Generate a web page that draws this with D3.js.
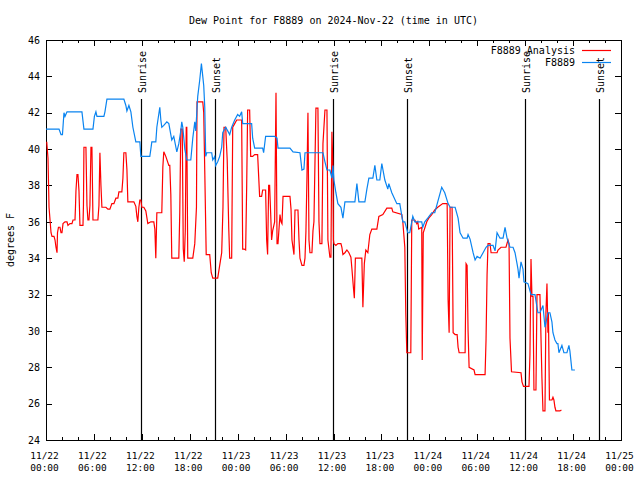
<!DOCTYPE html>
<html><head><meta charset="utf-8">
<script src="https://cdn.jsdelivr.net/npm/d3@7"></script>
<style>body{margin:0;background:#fff}svg{display:block}text{font-family:"DejaVu Sans Mono",monospace;fill:#000}</style>
</head><body><svg id="c" width="640" height="480"></svg>
<script>
const titleText = "Dew Point for F8889 on 2024-Nov-22 (time in UTC)";
const yTitle = "degrees F";
const seriesNames = ["F8889 Analysis", "F8889"];
const startTime = Date.UTC(2024, 10, 22, 0, 0);
const endTime = Date.UTC(2024, 10, 25, 0, 0);
const yTicks = [24, 26, 28, 30, 32, 34, 36, 38, 40, 42, 44, 46];
const sunriseHours = [11.93, 35.94, 59.95];
const sunsetHours = [21.22, 45.21, 69.2];

// [hours since 11/22 00:00 UTC, dew point F]
const analysis = [[0.09,40.4],[0.25,39.5],[0.38,36.8],[0.63,35.4],[0.75,35.2],[1.0,35.2],[1.13,35.0],[1.25,34.6],[1.38,34.3],[1.44,35.4],[1.56,35.7],[1.75,35.7],[1.88,35.4],[2.0,35.4],[2.13,35.9],[2.38,36.0],[2.63,36.0],[2.75,35.8],[3.0,35.9],[3.25,35.9],[3.38,36.1],[3.63,36.1],[3.69,36.8],[3.75,37.7],[3.88,38.6],[4.0,38.6],[4.13,37.7],[4.25,35.8],[4.63,35.8],[4.69,36.9],[4.75,40.1],[5.0,40.1],[5.13,36.9],[5.25,36.1],[5.38,36.1],[5.5,36.9],[5.63,40.1],[5.75,40.1],[5.88,36.1],[6.5,36.1],[6.63,36.9],[6.75,39.8],[6.88,38.0],[7.0,36.8],[7.5,36.8],[7.75,36.7],[8.0,36.7],[8.25,37.0],[8.5,37.0],[8.75,37.3],[9.0,37.3],[9.13,37.65],[9.5,37.65],[9.63,38.4],[9.75,39.8],[10.0,39.8],[10.13,38.9],[10.25,37.1],[11.0,37.1],[11.25,36.85],[11.38,36.3],[11.5,36.0],[11.63,36.8],[11.75,37.2],[11.88,37.2],[12.0,36.8],[12.25,36.8],[12.5,36.6],[12.75,35.9],[13.13,36.0],[13.5,36.0],[13.63,35.6],[13.75,34.0],[13.88,36.5],[14.5,36.5],[14.63,39.0],[14.75,39.85],[15.0,39.6],[15.38,39.1],[15.5,39.1],[15.63,37.5],[15.75,34.0],[16.63,34.0],[16.75,36.5],[16.88,41.1],[17.06,41.1],[17.19,34.5],[17.31,33.8],[17.44,35.5],[17.56,41.2],[17.63,41.2],[17.75,34.0],[18.38,34.0],[18.63,34.8],[18.84,36.8],[18.91,42.6],[19.63,42.6],[19.75,42.0],[19.88,38.8],[20.06,34.2],[20.5,34.2],[20.69,33.2],[20.88,32.9],[21.5,32.9],[21.75,33.6],[22.0,34.3],[22.16,36.8],[22.29,41.2],[22.5,41.2],[22.69,39.4],[22.88,35.7],[23.0,34.0],[23.25,34.0],[23.38,41.2],[23.63,41.4],[23.88,41.6],[24.5,41.6],[24.63,34.5],[24.81,34.5],[25.0,34.45],[25.13,38.0],[25.25,42.15],[25.5,42.15],[25.63,39.6],[25.88,39.6],[26.13,39.7],[26.5,39.7],[26.63,38.5],[26.75,37.4],[27.0,37.4],[27.13,37.75],[27.5,37.75],[27.63,35.0],[27.75,34.2],[27.88,38.0],[28.0,38.0],[28.13,36.5],[28.25,35.0],[28.38,35.5],[28.63,36.0],[28.8,43.1],[28.93,34.8],[29.05,34.8],[29.3,36.4],[29.43,36.0],[29.55,35.9],[29.68,37.4],[30.55,37.4],[30.68,36.7],[30.8,35.0],[31.05,34.2],[31.18,36.65],[31.55,36.65],[31.68,35.0],[31.8,34.0],[32.05,33.6],[32.3,33.6],[32.43,34.0],[32.55,35.5],[32.68,38.5],[32.8,42.0],[32.93,35.0],[33.05,34.3],[33.3,34.3],[33.43,35.5],[33.55,36.0],[33.8,42.25],[34.05,42.25],[34.18,36.0],[34.3,34.8],[34.55,34.8],[34.68,40.3],[34.93,42.15],[35.18,42.15],[35.3,35.0],[35.55,34.05],[35.68,34.05],[35.8,40.95],[35.93,39.0],[35.99,35.0],[36.05,34.8],[36.3,34.7],[36.55,34.8],[36.93,34.8],[37.05,34.6],[37.18,34.2],[37.43,34.3],[37.68,34.45],[37.93,34.3],[38.18,34.05],[38.3,33.45],[38.49,32.4],[38.61,31.8],[38.74,34.0],[39.55,34.0],[39.68,31.3],[39.86,33.7],[40.05,34.45],[40.3,34.3],[40.55,35.3],[40.8,35.6],[41.43,35.6],[41.68,36.3],[42.18,36.4],[42.68,36.75],[43.3,36.75],[43.43,36.55],[44.55,36.4],[44.68,36.0],[44.93,34.6],[45.05,31.0],[45.18,28.8],[45.68,28.8],[45.8,36.1],[46.18,36.1],[46.43,35.9],[46.55,36.0],[46.68,35.6],[47.05,35.7],[47.11,28.4],[47.24,35.4],[47.68,36.0],[47.93,36.2],[48.3,36.4],[48.68,36.65],[49.05,36.8],[49.68,37.0],[50.23,37.0],[50.35,31.7],[50.48,29.9],[50.6,36.8],[50.85,36.8],[50.98,29.9],[51.23,29.8],[51.48,29.8],[51.6,29.1],[51.73,28.8],[52.48,28.8],[52.6,33.7],[52.73,33.6],[52.85,30.0],[52.98,28.0],[53.6,27.85],[53.73,27.6],[54.98,27.6],[55.1,29.5],[55.23,33.1],[55.35,34.8],[55.6,34.8],[55.73,34.3],[56.48,34.3],[56.6,34.45],[56.98,34.6],[57.6,34.6],[57.85,35.0],[57.98,34.8],[58.1,29.6],[58.29,27.75],[59.48,27.7],[59.6,27.2],[59.79,26.95],[60.48,26.95],[60.6,28.7],[60.73,33.95],[60.85,31.9],[60.98,31.9],[61.1,26.75],[61.35,26.75],[61.48,32.0],[61.85,32.0],[61.94,30.4],[62.1,27.4],[62.23,25.6],[62.48,25.6],[62.6,31.0],[62.73,32.6],[62.85,29.9],[62.91,31.0],[63.04,26.2],[63.35,26.2],[63.48,26.35],[63.6,26.2],[63.73,25.8],[63.85,25.6],[64.35,25.6],[64.54,25.65]];

const observed = [[0,41.1],[1.63,41.1],[1.88,40.8],[2.06,40.8],[2.25,42.0],[2.38,41.8],[2.63,42.05],[4.5,42.05],[4.75,41.1],[5.88,41.1],[6.06,41.8],[6.25,42.05],[6.38,41.8],[7.25,41.8],[7.38,42.05],[7.63,42.75],[9.75,42.75],[10.0,42.4],[10.13,42.1],[10.38,42.4],[10.63,42.05],[10.88,41.2],[11.25,40.4],[11.75,40.4],[11.88,39.6],[13.0,39.6],[13.13,40.0],[13.25,40.4],[13.75,40.4],[13.88,41.2],[14.25,42.3],[14.38,41.6],[14.5,41.2],[14.75,41.3],[15.13,41.5],[15.38,41.4],[15.75,40.5],[16.0,40.7],[16.38,39.85],[16.63,40.3],[16.88,41.0],[17.0,41.5],[17.13,41.2],[17.38,40.0],[17.63,39.4],[18.13,39.4],[18.38,40.6],[18.63,41.5],[18.75,41.0],[19.0,42.9],[19.25,43.8],[19.46,44.7],[19.63,44.0],[19.75,43.5],[19.88,42.3],[20.0,39.6],[20.13,39.8],[20.75,39.8],[20.88,39.4],[21.13,39.6],[21.25,39.1],[21.5,39.3],[21.75,39.6],[22.0,40.1],[22.13,40.9],[22.5,41.2],[22.75,41.0],[23.0,40.8],[23.25,41.2],[23.63,41.6],[24.0,41.9],[24.25,41.8],[24.5,42.05],[24.63,41.4],[25.75,41.4],[25.88,40.6],[26.13,40.05],[27.13,40.05],[27.25,39.8],[27.5,40.7],[28.63,40.7],[28.93,40.6],[29.05,40.05],[30.55,40.05],[30.93,39.85],[31.8,39.8],[32.05,38.85],[32.3,38.9],[32.43,39.8],[34.68,39.8],[34.93,39.3],[35.18,38.85],[35.55,38.85],[35.8,38.4],[35.93,39.1],[36.05,38.3],[36.3,37.6],[36.55,37.0],[36.93,36.8],[37.18,36.2],[37.43,37.1],[38.68,37.1],[38.93,38.1],[39.18,37.1],[39.93,37.1],[40.18,37.8],[40.43,38.4],[40.93,38.4],[41.18,39.1],[41.43,38.3],[41.8,38.3],[42.05,39.2],[42.43,38.3],[42.8,37.8],[42.93,38.1],[43.3,37.6],[43.93,37.0],[44.3,37.0],[44.68,36.0],[44.93,36.0],[45.3,35.4],[45.55,35.4],[45.93,36.3],[46.18,36.0],[47.05,36.0],[47.18,35.7],[47.43,36.0],[47.8,36.2],[48.3,36.5],[48.68,36.5],[49.05,37.1],[49.55,37.9],[49.93,37.6],[50.35,37.0],[50.6,36.8],[51.23,36.8],[51.6,36.2],[51.85,35.4],[52.23,35.1],[52.73,35.1],[52.85,35.3],[53.1,35.05],[53.48,34.3],[53.73,33.9],[53.98,34.1],[54.35,34.0],[54.73,34.3],[55.1,34.6],[55.35,34.7],[55.98,34.7],[56.23,34.4],[56.48,35.4],[56.85,35.1],[57.23,35.1],[57.48,35.7],[57.73,35.1],[58.1,34.6],[58.48,34.6],[58.73,34.3],[58.98,33.7],[59.1,33.4],[59.23,32.9],[59.48,33.8],[59.73,33.4],[59.85,32.7],[60.35,32.6],[60.73,32.0],[61.23,32.0],[61.48,31.3],[61.6,31.0],[61.85,31.0],[62.23,31.4],[62.48,30.2],[62.85,31.0],[63.1,31.0],[63.35,30.5],[63.48,29.9],[63.73,29.5],[63.98,29.3],[64.1,29.3],[64.23,28.8],[64.6,29.2],[64.85,28.8],[65.23,28.8],[65.48,29.2],[65.6,28.9],[65.85,27.85],[66.23,27.85]];

const colors = ["#ff0000", "#0a84f0"];
const svg = d3.select("#c");
const L = 46, R = 621, T = 40, B = 440;
const toDate = h => new Date(startTime + h * 3600000);
const x = d3.scaleUtc().domain([new Date(startTime), new Date(endTime)]).range([L, R]);
const y = d3.scaleLinear().domain([24, 46]).range([B, T]);
const fontF = '"DejaVu Sans Mono", monospace';

function styleAxis(g, size) {
  g.select(".domain").remove();
  g.selectAll("line").attr("stroke", "#000").attr("shape-rendering", "crispEdges");
  g.attr("font-family", fontF).attr("font-size", size);
}

// left / right y axes
svg.append("g").attr("transform", `translate(${L},0)`)
  .call(d3.axisLeft(y).tickValues(yTicks).tickSizeInner(-6).tickSizeOuter(0).tickPadding(6))
  .call(g => styleAxis(g, 10));
svg.append("g").attr("transform", `translate(${R},0)`)
  .call(d3.axisRight(y).tickValues(yTicks).tickSizeInner(-6).tickSizeOuter(0).tickFormat(""))
  .call(g => styleAxis(g, 10));

// bottom / top x axes (major every 6h, minor every 2h)
const fmtDay = d3.utcFormat("%m/%d"), fmtTime = d3.utcFormat("%H:%M");
svg.append("g").attr("transform", `translate(0,${B})`)
  .call(d3.axisBottom(x).ticks(d3.utcHour.every(2)).tickSizeInner(-3).tickSizeOuter(0).tickFormat(""))
  .call(g => styleAxis(g, 10));
svg.append("g").attr("transform", `translate(0,${T})`)
  .call(d3.axisTop(x).ticks(d3.utcHour.every(2)).tickSizeInner(-3).tickSizeOuter(0).tickFormat(""))
  .call(g => styleAxis(g, 10));
svg.append("g").attr("transform", `translate(0,${T})`)
  .call(d3.axisTop(x).ticks(d3.utcHour.every(6)).tickSizeInner(-6).tickSizeOuter(0).tickFormat(""))
  .call(g => styleAxis(g, 10));
const xb = svg.append("g").attr("transform", `translate(0,${B})`)
  .call(d3.axisBottom(x).ticks(d3.utcHour.every(6)).tickSizeInner(-6).tickSizeOuter(0).tickPadding(0).tickFormat(fmtDay))
  .call(g => styleAxis(g, 9.5));
xb.selectAll(".tick text").each(function(d) {
  const t = d3.select(this);
  t.text(null).attr("y", 0).attr("dy", null);
  t.append("tspan").attr("x", -2).attr("y", 18.5).text(fmtDay(d));
  t.append("tspan").attr("x", -2).attr("y", 30.5).text(fmtTime(d));
});

// frame
svg.append("rect").attr("x", L + 0.5).attr("y", T + 0.5).attr("width", R - L).attr("height", B - T)
  .attr("fill", "none").attr("stroke", "#000").attr("shape-rendering", "crispEdges");

// sunrise / sunset markers
const events = sunriseHours.map(h => ({h, name: "Sunrise"})).concat(sunsetHours.map(h => ({h, name: "Sunset"})));
const ev = svg.append("g");
events.forEach(e => {
  const xp = Math.round(x(toDate(e.h))) + 0.5;
  ev.append("line").attr("x1", xp).attr("x2", xp).attr("y1", B).attr("y2", T + 59)
    .attr("stroke", "#000").attr("stroke-width", 1.2);
  ev.append("text").attr("transform", `translate(${xp + 4},${T + 53}) rotate(-90)`)
    .attr("text-anchor", "start").attr("font-size", 10).text(e.name);
});

// data lines
const line = d3.line().x(d => x(toDate(d[0]))).y(d => y(d[1]));
[analysis, observed].forEach((s, i) => {
  svg.append("path").datum(s).attr("d", line).attr("fill", "none")
    .attr("stroke", colors[i]).attr("stroke-width", 1.2).attr("stroke-linejoin", "miter");
});

// legend
seriesNames.forEach((n, i) => {
  const ly = 50.5 + i * 12;
  svg.append("text").attr("x", 575).attr("y", ly + 3.5).attr("text-anchor", "end").attr("font-size", 10).text(n);
  svg.append("line").attr("x1", 582).attr("x2", 611).attr("y1", ly).attr("y2", ly)
    .attr("stroke", colors[i]).attr("stroke-width", 1.2);
});

// titles
svg.append("text").attr("x", (L + R) / 2).attr("y", 24).attr("text-anchor", "middle").attr("font-size", 10).text(titleText);
svg.append("text").attr("transform", `translate(14,${(T + B) / 2}) rotate(-90)`).attr("text-anchor", "middle")
  .attr("font-size", 10).text(yTitle);
</script></body></html>
